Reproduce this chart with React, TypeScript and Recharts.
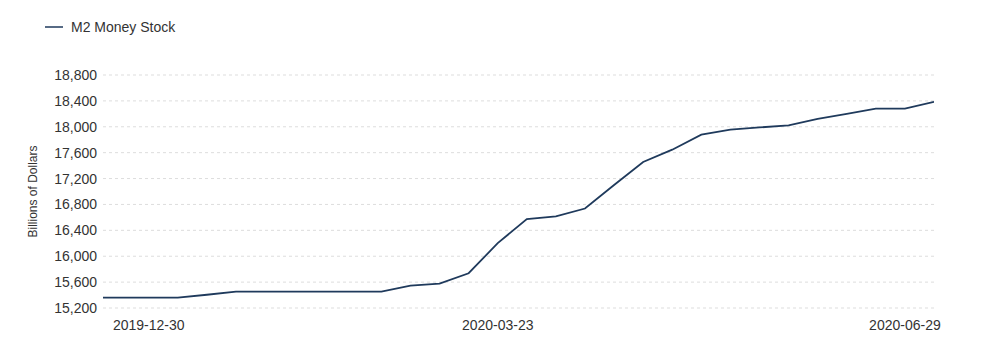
import { LineChart, Line, XAxis, YAxis, CartesianGrid, Legend } from 'recharts'

const weeks = [
  '2019-12-16', '2019-12-23', '2019-12-30', '2020-01-06', '2020-01-13', '2020-01-20',
  '2020-01-27', '2020-02-03', '2020-02-10', '2020-02-17', '2020-02-24', '2020-03-02',
  '2020-03-09', '2020-03-16', '2020-03-23', '2020-03-30', '2020-04-06', '2020-04-13',
  '2020-04-20', '2020-04-27', '2020-05-04', '2020-05-11', '2020-05-18', '2020-05-25',
  '2020-06-01', '2020-06-08', '2020-06-15', '2020-06-22', '2020-06-29', '2020-07-06',
]

const m2 = [
  15359, 15359, 15359, 15359, 15405, 15452,
  15452, 15452, 15452, 15452, 15452, 15545,
  15576, 15737, 16202, 16573, 16614, 16737,
  17100, 17456, 17646, 17878, 17956, 17990,
  18023, 18122, 18199, 18281, 18281, 18385,
]

const xTickDates = ['2019-12-30', '2020-03-23', '2020-06-29']
const windowStart = '2019-12-19'
const yTicks = [15200, 15600, 16000, 16400, 16800, 17200, 17600, 18000, 18400, 18800]

const toTime = (d: string) => new Date(d + 'T00:00:00Z').getTime()
const fmtDate = (t: number) => new Date(t).toISOString().slice(0, 10)

const data = weeks.map((week, i) => ({ t: toTime(week), m2: m2[i] }))

const LINE_COLOR = '#1f3a5c'
const TEXT_COLOR = '#333333'
const FONT = '"Liberation Sans", Arial, Helvetica, sans-serif'

function LegendContent({ payload }: any) {
  return (
    <div style={{ display: 'flex', alignItems: 'center', fontFamily: FONT, fontSize: 14, color: TEXT_COLOR }}>
      {(payload || []).map((entry: any) => (
        <div key={entry.value} style={{ display: 'flex', alignItems: 'center' }}>
          <svg width={18} height={4} style={{ marginRight: 8 }}>
            <line x1={0} y1={2} x2={18} y2={2} stroke={entry.color} strokeWidth={1.5} />
          </svg>
          <span>{entry.value}</span>
        </div>
      ))}
    </div>
  )
}

function YLabel({ viewBox }: any) {
  const cx = viewBox.x + 33
  const cy = viewBox.y + viewBox.height / 2
  return (
    <text
      x={cx}
      y={cy}
      transform={`rotate(-90, ${cx}, ${cy})`}
      textAnchor="middle"
      dominantBaseline="central"
      fontFamily={FONT}
      fontSize={12}
      fill={TEXT_COLOR}
    >
      Billions of Dollars
    </text>
  )
}

export default function App() {
  return (
    <div style={{ position: 'absolute', left: 0, top: 0, background: '#fff' }}>
      <LineChart
        width={1000}
        height={353}
        data={data}
        margin={{ top: 75, right: 66, bottom: 15, left: 0 }}
      >
        <CartesianGrid vertical={false} stroke="#dddddd" strokeDasharray="3 3" />
        <XAxis
          dataKey="t"
          type="number"
          scale="time"
          domain={[toTime(windowStart), 'dataMax']}
          allowDataOverflow
          ticks={xTickDates.map(toTime)}
          axisLine={false}
          tickLine={false}
          height={30}
          tickMargin={6}
          tick={{ fill: TEXT_COLOR, fontSize: 14, fontFamily: FONT }}
          tickFormatter={fmtDate}
        />
        <YAxis
          width={103}
          domain={[15200, 18800]}
          ticks={yTicks}
          axisLine={false}
          tickLine={false}
          tickMargin={0}
          tick={{ fill: TEXT_COLOR, fontSize: 14, fontFamily: FONT }}
          tickFormatter={(v: number) => v.toLocaleString('en-US')}
          label={<YLabel />}
        />
        <Legend
          layout="horizontal"
          verticalAlign="middle"
          align="center"
          wrapperStyle={{ top: 19, left: 45, width: 'auto' }}
          content={<LegendContent />}
        />
        <Line
          type="linear"
          dataKey="m2"
          name="M2 Money Stock"
          stroke={LINE_COLOR}
          strokeWidth={1.8}
          dot={false}
          activeDot={false}
          isAnimationActive={false}
        />
      </LineChart>
    </div>
  )
}
